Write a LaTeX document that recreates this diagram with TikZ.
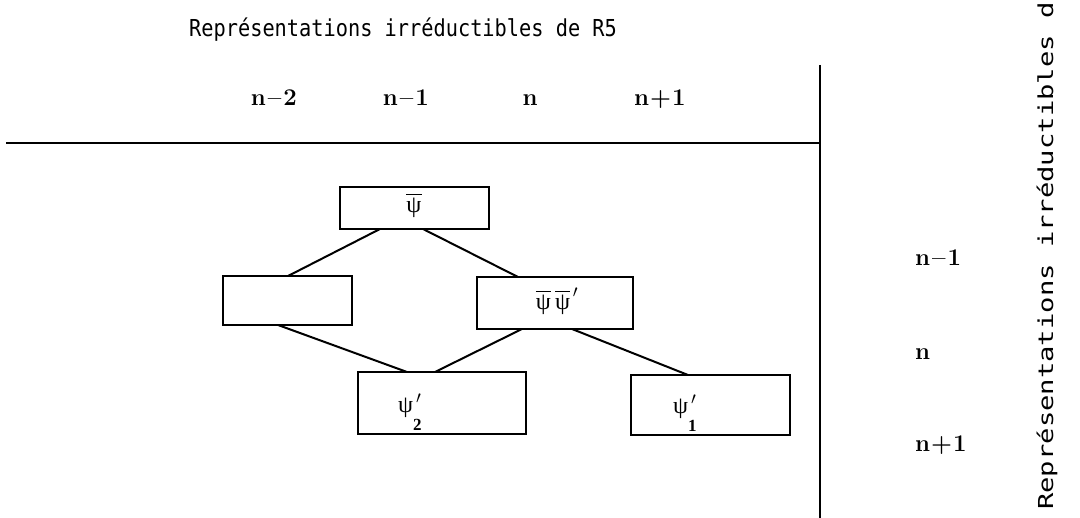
\documentclass[tikz,border=0pt]{standalone}
\usepackage{fontspec}
\usepackage{graphicx}
\newfontfamily\monofont{DejaVu Sans Mono}
\newfontfamily\psifont{Liberation Serif}
\usetikzlibrary{calc}
\begin{document}
\begin{tikzpicture}[x=1pt,y=-1pt,
  box/.style={draw, line width=2pt, rectangle, inner sep=0pt, outer sep=0pt},
  conn/.style={line width=2pt},
  rulel/.style={line width=2pt},
  lab/.style={font=\bfseries\fontsize{24}{24}\selectfont, inner sep=0pt, anchor=base},
  rlab/.style={font=\bfseries\fontsize{24}{24}\selectfont, inner sep=0pt, anchor=base west},
  ttl/.style={font=\monofont\fontsize{20.3}{24}\selectfont, inner sep=0pt},
  sidettl/.style={font=\monofont\fontsize{20.6}{24}\selectfont, inner sep=0pt},
  psi/.style={font=\psifont\fontsize{24}{24}\selectfont, inner sep=0pt}]
\useasboundingbox (0,0) rectangle (1080,518);
% titles
\node[ttl, anchor=base west] (title) at (189,37) {\scalebox{1}[1.15]{Représentations irréductibles de R5}};
\node[sidettl, anchor=base west, rotate=90] (side) at (1053,510) {\scalebox{1.32}[1]{Représentations irréductibles d}};
% column labels
\node[lab] (c1) at (274,106) {n\kern2pt--\kern2pt2};
\node[lab] (c2) at (406,106) {n\kern2pt--\kern2pt1};
\node[lab] (c3) at (530,106) {n};
\node[lab] (c4) at (660,106) {n\kern1pt+\kern1pt1};
% row labels
\node[rlab] (r1) at (915,266) {n\kern2pt--\kern2pt1};
\node[rlab] (r2) at (915,360) {n};
\node[rlab] (r3) at (915,452) {n\kern1pt+\kern1pt1};
% rules
\coordinate (hl) at (6,143);
\coordinate (hr) at (820,143);
\coordinate (vt) at (820,65);
\coordinate (vb) at (820,518);
\draw[rulel] (hl) -- (hr);
\draw[rulel] (vt) -- (vb);
% boxes
\node[box, minimum width=149pt, minimum height=42pt] (b1) at (414.5,208) {};
\node[box, minimum width=129pt, minimum height=49pt] (b2) at (287.5,300.5) {};
\node[box, minimum width=156pt, minimum height=52pt] (b3) at (555,303) {};
\node[box, minimum width=168pt, minimum height=62pt] (b4) at (442,403) {};
\node[box, minimum width=159pt, minimum height=60pt] (b5) at (710.5,405) {};
% box texts
\node[psi] (t1) at (414,206) {$\overline{\raisebox{0pt}[17pt][5pt]{ψ}}$};
\node[psi] (t3) at (557,301) {$\overline{\raisebox{0pt}[17pt][5pt]{ψ}}\,\overline{\raisebox{0pt}[17pt][5pt]{ψ}}^{\,\prime}$};
\node[psi, anchor=base west] (t4) at (398,413) {ψ\makebox[0pt][l]{$^{\,\prime}$}\raisebox{-18pt}{\fontsize{17}{17}\selectfont\bfseries 2}};
\node[psi, anchor=base west] (t5) at (673,414) {ψ\makebox[0pt][l]{$^{\,\prime}$}\raisebox{-18pt}{\fontsize{17}{17}\selectfont\bfseries 1}};
% connectors
\draw[conn] ($(b1.south west)+(40,0)$) -- ($(b2.north west)+(65,0)$);
\draw[conn] ($(b1.south west)+(83,0)$) -- ($(b3.north west)+(41,0)$);
\draw[conn] ($(b2.south west)+(55,0)$) -- ($(b4.north west)+(49,0)$);
\draw[conn] ($(b3.south west)+(45,0)$) -- ($(b4.north west)+(77,0)$);
\draw[conn] ($(b3.south west)+(95,0)$) -- ($(b5.north west)+(57,0)$);
\end{tikzpicture}
\end{document}
